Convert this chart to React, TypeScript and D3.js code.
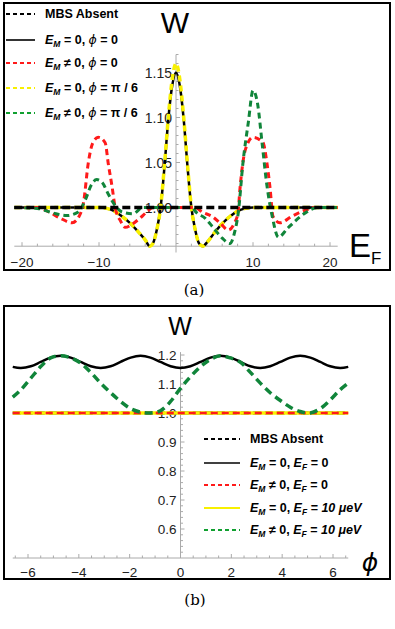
import * as d3 from 'd3';

type Pt = [number, number];

// ---- panel (a): W against E_F ----
const efTicks = [-20, -10, 10, 20];
const efTickLabels = ['\u221220', '\u221210', '10', '20'];
const wTicksA = [1.0, 1.05, 1.1, 1.15];
const wTickLabelsA = ['1.00', '1.05', '1.10', '1.15'];

const mbsAbsentA: Pt[] = [[-21, 1], [21, 1]];
const emZeroPhi0: Pt[] = [
  [-21, 1], [-12, 1], [-10, 1], [-9, 0.999], [-8, 0.996], [-7, 0.99], [-6, 0.983], [-5, 0.974],
  [-4, 0.964], [-3.4, 0.957], [-3, 0.96], [-2.5, 0.975], [-2, 1.0], [-1.5, 1.045], [-1, 1.098],
  [-0.5, 1.135], [0, 1.15], [0.5, 1.135], [1, 1.098], [1.5, 1.045], [2, 1.0], [2.5, 0.975],
  [3, 0.96], [3.5, 0.957], [4, 0.961], [5, 0.972], [6, 0.982], [7, 0.99], [8, 0.996], [9, 0.999],
  [10, 1], [21, 1],
];
const emZeroPhiPi6: Pt[] = [
  [-21, 1], [-12, 1], [-10, 1], [-9, 0.999], [-8, 0.996], [-7, 0.99], [-6, 0.983], [-5, 0.974],
  [-4, 0.964], [-3.4, 0.957], [-3, 0.96], [-2.5, 0.975], [-2, 1.0], [-1.5, 1.047], [-1, 1.1],
  [-0.5, 1.142], [0, 1.16], [0.5, 1.142], [1, 1.1], [1.5, 1.047], [2, 1.0], [2.5, 0.975],
  [3, 0.96], [3.5, 0.957], [4, 0.961], [5, 0.972], [6, 0.982], [7, 0.99], [8, 0.996], [9, 0.999],
  [10, 1], [21, 1],
];
const emNonzeroPhi0: Pt[] = [
  [-21, 1], [-18, 1], [-16.5, 0.995], [-15, 0.988], [-13.5, 0.983], [-12.6, 0.99], [-12, 1.006],
  [-11.4, 1.049], [-10.8, 1.072], [-10.1, 1.078], [-9.2, 1.072], [-8.8, 1.049], [-8.3, 1.023],
  [-7.9, 1.0], [-7.2, 0.985], [-6.6, 0.978], [-5.6, 0.982], [-4.7, 0.988], [-3.8, 0.995], [-3, 1.0],
  [2.5, 1.0], [3.4, 0.995], [4.7, 0.99], [5.7, 0.983], [6.8, 0.975], [7.6, 0.983], [8.05, 0.994],
  [8.3, 1.02], [9, 1.064], [10, 1.078], [11.3, 1.072], [11.8, 1.05], [12.2, 1.023], [12.6, 0.99],
  [13.5, 0.983], [15, 0.99], [16.8, 0.997], [18, 1], [21, 1],
];
const emNonzeroPhiPi6: Pt[] = [
  [-21, 1], [-18, 0.999], [-16, 0.994], [-14.2, 0.991], [-12.7, 0.995], [-11.8, 1.008], [-11, 1.025],
  [-10.3, 1.031], [-9.6, 1.028], [-8.8, 1.015], [-8.2, 1.006], [-7, 0.995], [-5.6, 0.993], [-4.3, 1.0],
  [2, 1.0], [2.7, 0.994], [3.8, 0.988], [4.8, 0.978], [6, 0.966], [7, 0.96], [7.6, 0.972], [8.1, 0.995],
  [8.7, 1.05], [9.4, 1.095], [10, 1.13], [10.6, 1.115], [11.2, 1.07], [11.8, 1.025], [12.5, 0.99],
  [13.3, 0.967], [14.5, 0.977], [16.8, 0.994], [18.4, 1], [21, 1],
];

// ---- panel (b): W against phi ----
const phiGrid = [
  -6.6, -6.28, -5.89, -5.5, -5.11, -4.71, -4.32, -3.93, -3.53, -3.14, -2.75, -2.36, -1.96, -1.57,
  -1.18, -0.79, -0.39, 0, 0.39, 0.79, 1.18, 1.57, 1.96, 2.36, 2.75, 3.14, 3.53, 3.93, 4.32, 4.71,
  5.11, 5.5, 5.89, 6.28, 6.6,
];
const emZeroEf0W = [
  1.159, 1.155, 1.161, 1.176, 1.191, 1.197, 1.191, 1.176, 1.161, 1.155, 1.161, 1.176, 1.191, 1.197,
  1.191, 1.176, 1.161, 1.155, 1.161, 1.176, 1.191, 1.197, 1.191, 1.176, 1.161, 1.155, 1.161, 1.176,
  1.191, 1.197, 1.191, 1.176, 1.161, 1.155, 1.159,
];
const emNonzeroEf10W = [
  1.055, 1.08, 1.12, 1.16, 1.19, 1.197, 1.19, 1.172, 1.14, 1.103, 1.07, 1.04, 1.015, 1.003,
  1.0, 1.008, 1.04, 1.085, 1.125, 1.16, 1.185, 1.197, 1.19, 1.175, 1.14, 1.103, 1.07, 1.043,
  1.02, 1.005, 1.0, 1.015, 1.045, 1.08, 1.103,
];
const flatPhi = [-6.6, 6.6];
const flatW = [1, 1];
const phiTicks = [-6, -4, -2, 0, 2, 4, 6];
const phiTickLabels = ['\u22126', '\u22124', '\u22122', '0', '2', '4', '6'];
const wTicksB = [0.6, 0.7, 0.8, 0.9, 1.0, 1.1, 1.2];
const wTickLabelsB = ['0.6', '0.7', '0.8', '0.9', '1.0', '1.1', '1.2'];

const SANS = 'Liberation Sans, Arial, sans-serif';
const SERIF = 'DejaVu Serif, Liberation Serif, serif';
const AXIS = '#aaa';
const LABEL = '#222';
const YELLOW = '#f8f000';
const RED = '#ff1a1a';
const GREEN = '#10853a';

// scales
const xa = d3.scaleLinear().domain([-20, 20]).range([22, 330]);
const ya = d3.scaleLinear().domain([1.0, 1.15]).range([207.5, 72.5]);
const xb = d3.scaleLinear().domain([-6, 6]).range([28, 333]);
const yb = d3.scaleLinear().domain([1.0, 1.2]).range([413, 355]);

const lineA = d3.line<Pt>().x(d => xa(d[0])).y(d => ya(d[1])).curve(d3.curveMonotoneX);
const lineB = (xs: number[], ys: number[]) =>
  d3.line<number>().x((d, i) => xb(xs[i])).y(d => yb(d)).curve(d3.curveCatmullRom)(ys) || '';

const Phi = () => <tspan fontFamily="DejaVu Sans, sans-serif" fontStyle="oblique" fontWeight="normal">{'\u03d5'}</tspan>;
const Sub = ({ t }: { t: string }) => (
  <>
    <tspan fontStyle="italic" fontSize="8.5" dy="3">{t}</tspan>
    <tspan dy="-3"> </tspan>
  </>
);
const E = ({ s }: { s: string }) => (
  <>
    <tspan fontStyle="italic">E</tspan>
    <Sub t={s} />
  </>
);

type Row = { color: string; dash: string; width: number; label: JSX.Element };

const rowsA: Row[] = [
  { color: '#000', dash: '4 3', width: 2, label: <tspan>MBS Absent</tspan> },
  { color: '#000', dash: '', width: 1.6, label: <><E s="M" />= 0, <Phi /> = 0</> },
  { color: RED, dash: '4 3', width: 2, label: <><E s="M" />{'\u2260'} 0, <Phi /> = 0</> },
  { color: YELLOW, dash: '4 3', width: 2, label: <><E s="M" />= 0, <Phi /> = {'\u03c0'} / 6</> },
  { color: '#10a030', dash: '4 3', width: 2, label: <><E s="M" />{'\u2260'} 0, <Phi /> = {'\u03c0'} / 6</> },
];
const rowsB: Row[] = [
  { color: '#000', dash: '4 3', width: 2, label: <tspan>MBS Absent</tspan> },
  { color: '#000', dash: '', width: 1.6, label: <><E s="M" />= 0, <E s="F" />= 0</> },
  { color: RED, dash: '4 3', width: 2, label: <><E s="M" />{'\u2260'} 0, <E s="F" />= 0</> },
  { color: YELLOW, dash: '', width: 2, label: <><E s="M" />= 0, <E s="F" />= <tspan fontStyle="italic">10 {'\u03bc'}eV</tspan></> },
  { color: '#10a030', dash: '4 3', width: 2, label: <><E s="M" />{'\u2260'} 0,  <E s="F" />= <tspan fontStyle="italic">10 {'\u03bc'}eV</tspan></> },
];

const Legend = ({ rows, ys, x0, x1, tx }: { rows: Row[]; ys: number[]; x0: number; x1: number; tx: number }) => (
  <g>
    {rows.map((r, i) => (
      <g key={i}>
        <line x1={x0} x2={x1} y1={ys[i]} y2={ys[i]} stroke={r.color} strokeWidth={r.width} strokeDasharray={r.dash || undefined} />
        <text x={tx} y={ys[i] + 4} fontFamily={SANS} fontSize="12.5" fontWeight="bold" fill="#000">{r.label}</text>
      </g>
    ))}
  </g>
);

const PanelA = () => {
  const axisY = ya(0.957);
  const axisX = xa(0);
  const minorX = d3.range(-20, 21, 2).filter(v => v % 10 !== 0);
  const minorY = d3.range(0.95, 1.1701, 0.01).filter(v => Math.abs(Math.round(v * 20) - v * 20) > 1e-6);
  return (
    <g>
      <rect x={4} y={3} width={386} height={267} fill="#fff" stroke="#000" strokeWidth={2} />
      {/* axes */}
      <line x1={xa(-21)} x2={xa(21)} y1={axisY} y2={axisY} stroke={AXIS} />
      <line x1={axisX} x2={axisX} y1={ya(0.95)} y2={ya(1.17)} stroke={AXIS} />
      {efTicks.map(v => <line key={v} x1={xa(v)} x2={xa(v)} y1={axisY} y2={axisY - 4} stroke={AXIS} />)}
      {minorX.map(v => <line key={v} x1={xa(v)} x2={xa(v)} y1={axisY} y2={axisY - 2.5} stroke={AXIS} />)}
      {wTicksA.map(v => <line key={v} x1={axisX} x2={axisX + 4} y1={ya(v)} y2={ya(v)} stroke={AXIS} />)}
      {minorY.map(v => <line key={v} x1={axisX} x2={axisX + 2.5} y1={ya(v)} y2={ya(v)} stroke={AXIS} />)}
      {efTicks.map((v, i) => (
        <text key={v} x={xa(v)} y={267} textAnchor="middle" fontFamily={SANS} fontSize="13.5" fill={LABEL}>{efTickLabels[i]}</text>
      ))}
      {wTicksA.map((v, i) => (
        <text key={v} x={axisX - 4} y={ya(v) + 5} textAnchor="end" fontFamily={SANS} fontSize="14" fill={LABEL}>{wTickLabelsA[i]}</text>
      ))}
      {/* curves */}
      <path d={lineA(emZeroPhi0) || ''} fill="none" stroke="#000" strokeWidth={2.5} />
      <path d={lineA(emZeroPhiPi6) || ''} fill="none" stroke={YELLOW} strokeWidth={3.5} strokeDasharray="6 4" />
      <path d={lineA(emNonzeroPhi0) || ''} fill="none" stroke={RED} strokeWidth={3} strokeDasharray="6 4" />
      <path d={lineA(emNonzeroPhiPi6) || ''} fill="none" stroke={GREEN} strokeWidth={3} strokeDasharray="6 4" />
      <path d={lineA(mbsAbsentA) || ''} fill="none" stroke="#000" strokeWidth={3.5} strokeDasharray="8 4" />
      {/* titles */}
      <text x={175} y={33} textAnchor="middle" fontFamily={SANS} fontSize="30" fill="#000">W</text>
      <text x={349} y={257} fontFamily={SANS} fontSize="33" fill="#000">E</text>
      <text x={371} y={264} fontFamily={SANS} fontSize="17" fill="#000">F</text>
      <Legend rows={rowsA} ys={[14, 40, 63, 88, 113]} x0={6} x1={35} tx={45} />
    </g>
  );
};

const PanelB = () => {
  const axisY = yb(0.5);
  const axisX = xb(0);
  const minorX = d3.range(-6.5, 6.51, 0.5).filter(v => v % 2 !== 0);
  const minorY = d3.range(0.5, 1.2101, 0.02).filter(v => Math.abs(Math.round(v * 10) - v * 10) > 1e-6);
  return (
    <g>
      <rect x={4} y={306} width={386} height={273} fill="#fff" stroke="#000" strokeWidth={2} />
      <line x1={xb(-6.6)} x2={xb(6.6)} y1={axisY} y2={axisY} stroke={AXIS} />
      <line x1={axisX} x2={axisX} y1={axisY} y2={yb(1.21)} stroke={AXIS} />
      {phiTicks.map(v => <line key={v} x1={xb(v)} x2={xb(v)} y1={axisY} y2={axisY - 4} stroke={AXIS} />)}
      {minorX.map(v => <line key={v} x1={xb(v)} x2={xb(v)} y1={axisY} y2={axisY - 2.5} stroke={AXIS} />)}
      {wTicksB.map(v => <line key={v} x1={axisX} x2={axisX + 4} y1={yb(v)} y2={yb(v)} stroke={AXIS} />)}
      {minorY.map(v => <line key={v} x1={axisX} x2={axisX + 2.5} y1={yb(v)} y2={yb(v)} stroke={AXIS} />)}
      {phiTicks.map((v, i) => (
        <text key={v} x={xb(v)} y={577} textAnchor="middle" fontFamily={SANS} fontSize="13.5" fill={LABEL}>{phiTickLabels[i]}</text>
      ))}
      {wTicksB.map((v, i) => (
        <text key={v} x={axisX - 4} y={yb(v) + 5} textAnchor="end" fontFamily={SANS} fontSize="13.5" fill={LABEL}>{wTickLabelsB[i]}</text>
      ))}
      <path d={lineB(flatPhi, flatW)} fill="none" stroke="#000" strokeWidth={3} strokeDasharray="8 4" />
      <path d={lineB(phiGrid, emZeroEf0W)} fill="none" stroke="#000" strokeWidth={2.5} />
      <path d={lineB(flatPhi, flatW)} fill="none" stroke={YELLOW} strokeWidth={3.5} />
      <path d={lineB(flatPhi, flatW)} fill="none" stroke={RED} strokeWidth={2.5} strokeDasharray="7 4" />
      <path d={lineB(phiGrid, emNonzeroEf10W)} fill="none" stroke={GREEN} strokeWidth={3.5} strokeDasharray="8 5" />
      <text x={180} y={335} textAnchor="middle" fontFamily={SANS} fontSize="25" fill="#000">W</text>
      <text x={370} y={571} textAnchor="middle" fontFamily="DejaVu Sans, sans-serif" fontStyle="oblique" fontSize="25" fill="#000">{'\u03d5'}</text>
      <Legend rows={rowsB} ys={[439, 463, 485, 508, 530]} x0={204} x1={240} tx={250} />
    </g>
  );
};

export default function App() {
  return (
    <div style={{ position: 'absolute', left: 0, top: 0 }}>
      <svg width={395} height={629} style={{ display: 'block', background: '#fff' }}>
        <PanelA />
        <text x={194} y={295} textAnchor="middle" fontFamily={SERIF} fontSize="15" fill="#000">(a)</text>
        <PanelB />
        <text x={195} y={605} textAnchor="middle" fontFamily={SERIF} fontSize="15" fill="#000">(b)</text>
      </svg>
    </div>
  );
}
